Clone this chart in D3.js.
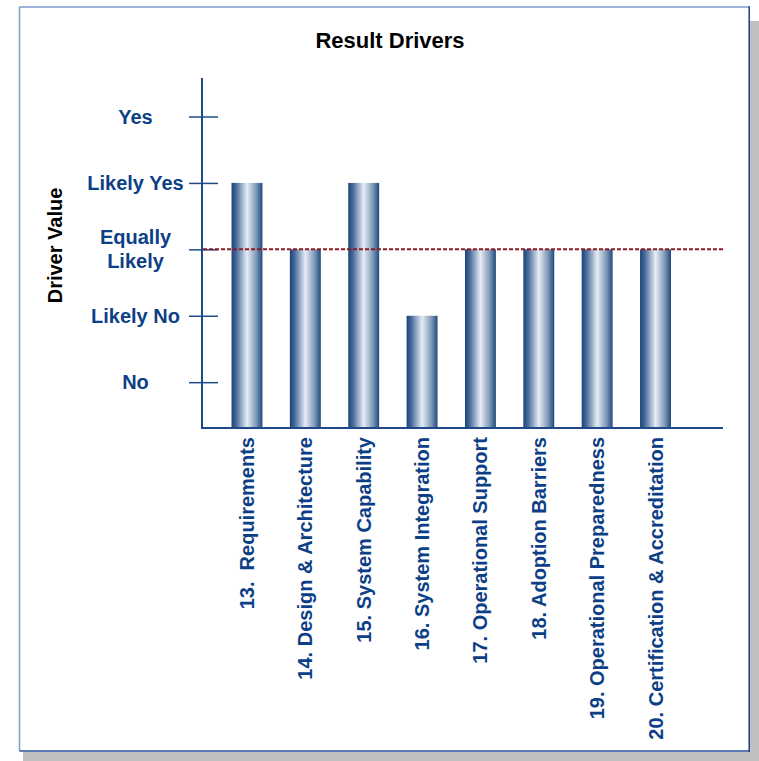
<!DOCTYPE html>
<html>
<head>
<meta charset="utf-8">
<script src="https://cdn.jsdelivr.net/npm/d3@7"></script>
<style>
  html, body { margin: 0; padding: 0; background: #fff; }
  svg { display: block; font-family: "Liberation Sans", Arial, sans-serif; }
</style>
</head>
<body>
<svg id="chart" width="759" height="761"></svg>
<script>
const categories = [
  "13.  Requirements",
  "14. Design & Architecture",
  "15. System Capability",
  "16. System Integration",
  "17. Operational Support",
  "18. Adoption Barriers",
  "19. Operational Preparedness",
  "20. Certification & Accreditation"
];
const values = [4, 3, 4, 2, 3, 3, 3, 3];
const tickValues = [1, 2, 3, 4, 5];
const tickLabels = ["No", "Likely No", "Equally Likely", "Likely Yes", "Yes"];
const referenceValue = 3;
const title = "Result Drivers";
const yTitle = "Driver Value";

const svg = d3.select("#chart");
const blue = "#0d3f87";
const axisColor = "#1e4a8a";

// frame with shadow
svg.append("rect").attr("x", 23).attr("y", 21).attr("width", 736).attr("height", 740).attr("fill", "#c0c0c0");
svg.append("rect").attr("x", 19).attr("y", 6.5).attr("width", 731).attr("height", 745).attr("fill", "#fff");
const fx0 = 19.5, fy0 = 7, fx1 = 749.2, fy1 = 751;
svg.append("line").attr("x1", fx0).attr("x2", fx1).attr("y1", fy0).attr("y2", fy0).attr("stroke", "#7b9bd0").attr("stroke-width", 1.5);
svg.append("line").attr("x1", fx0).attr("x2", fx0).attr("y1", fy0).attr("y2", fy1).attr("stroke", "#7b9bd0").attr("stroke-width", 1.5);
svg.append("line").attr("x1", fx0).attr("x2", fx1).attr("y1", fy1).attr("y2", fy1).attr("stroke", "#5a7cb2").attr("stroke-width", 2);
svg.append("line").attr("x1", fx1).attr("x2", fx1).attr("y1", fy0 - 0.7).attr("y2", fy1 + 1).attr("stroke", "#1c3c7e").attr("stroke-width", 1.5);

// gradient for bars
const defs = svg.append("defs");
const grad = defs.append("linearGradient").attr("id", "barGrad").attr("x1", "0%").attr("x2", "100%").attr("y1", "0%").attr("y2", "0%");
[[0, "#1a4475"], [0.15, "#46699a"], [0.5, "#e6edf5"], [0.8, "#7e97b8"], [1, "#1f4a7c"]]
  .forEach(([o, c]) => grad.append("stop").attr("offset", o).attr("stop-color", c));

const y = d3.scaleLinear().domain([0.31, 5.58]).range([428, 78]);
const x = d3.scaleBand().domain(categories).range([217.8, 684.7]).paddingInner(0.47).paddingOuter(0.235);

const axisLeftX = 202, axisRightX = 723;

// title
svg.append("text").attr("x", 390).attr("y", 48).attr("text-anchor", "middle")
  .attr("font-size", 22).attr("font-weight", "bold").attr("fill", "#000").text(title);

// y title
svg.append("text").attr("transform", `translate(62,245.5) rotate(-90)`).attr("text-anchor", "middle")
  .attr("font-size", 20).attr("font-weight", "bold").attr("fill", "#000").text(yTitle);

// bars
svg.append("g").selectAll("rect").data(values).join("rect")
  .attr("x", (d, i) => x(categories[i]))
  .attr("width", x.bandwidth())
  .attr("y", d => y(d))
  .attr("height", d => y.range()[0] - y(d))
  .attr("fill", "url(#barGrad)");

// y axis
const yAxis = svg.append("g").attr("transform", `translate(${axisLeftX},0)`)
  .call(d3.axisLeft(y).tickValues(tickValues).tickSize(0).tickFormat(""));
yAxis.select(".domain").remove();
yAxis.selectAll(".tick line").attr("x1", -13).attr("x2", 16).attr("stroke", axisColor).attr("stroke-width", 1.5);
svg.append("line").attr("x1", axisLeftX).attr("x2", axisLeftX).attr("y1", y.range()[1]).attr("y2", y.range()[0] + 1)
  .attr("stroke", axisColor).attr("stroke-width", 2);

// y tick labels (centered, multi-line for "Equally Likely")
const labG = svg.append("g");
tickValues.forEach((v, i) => {
  const words = tickLabels[i] === "Equally Likely" ? ["Equally", "Likely"] : [tickLabels[i]];
  const lh = 24;
  const t = labG.append("text").attr("text-anchor", "middle").attr("font-size", 20).attr("font-weight", "bold").attr("fill", blue);
  words.forEach((w, j) => {
    t.append("tspan").attr("x", 135.5)
      .attr("y", y(v) + 7 + (j - (words.length - 1) / 2) * lh)
      .text(w);
  });
});

// reference dashed line
svg.append("line").attr("x1", axisLeftX + 1).attr("x2", axisRightX).attr("y1", y(referenceValue)).attr("y2", y(referenceValue))
  .attr("stroke", "#8a1c24").attr("stroke-width", 2).attr("stroke-dasharray", "4,2");

// x axis
const xAxis = svg.append("g").attr("transform", `translate(0,${y.range()[0]})`)
  .call(d3.axisBottom(x).tickSize(0));
xAxis.select(".domain").remove();
xAxis.selectAll(".tick text")
  .attr("font-size", 20).attr("font-weight", "bold").attr("fill", blue)
  .attr("font-family", "'Liberation Sans', Arial, sans-serif")
  .attr("text-anchor", "end")
  .attr("transform", "rotate(-90)")
  .attr("x", -9).attr("y", 0).attr("dy", "0.35em")
  .style("white-space", "pre")
  .attr("xml:space", "preserve");
svg.append("line").attr("x1", axisLeftX - 1).attr("x2", axisRightX).attr("y1", y.range()[0]).attr("y2", y.range()[0])
  .attr("stroke", axisColor).attr("stroke-width", 2);
</script>
</body>
</html>
